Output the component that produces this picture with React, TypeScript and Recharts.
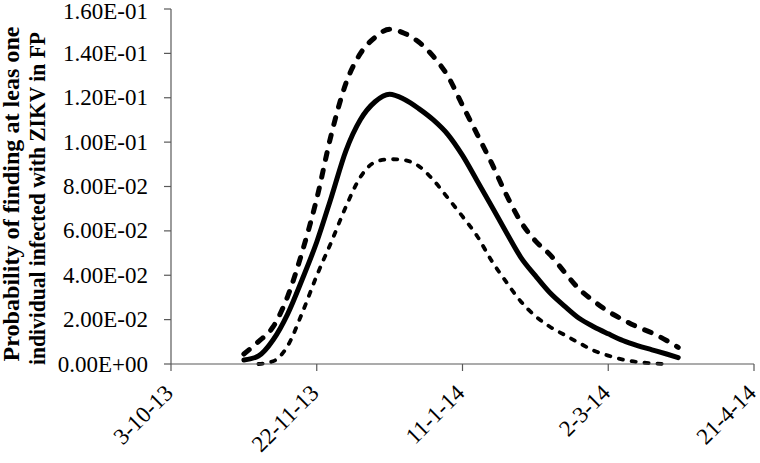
import { LineChart, Line, XAxis, YAxis } from "recharts";

// days since 3-10-13
const days = [
  25, 30, 35, 40, 45, 50, 55, 60, 65, 70, 75, 80, 85, 90, 95, 100, 105, 110, 115,
  120, 125, 130, 135, 140, 145, 150, 155, 160, 165, 170, 174,
];

const meanValues = [
  0.0018, 0.0036, 0.0108, 0.0225, 0.0381, 0.055, 0.0752, 0.0961, 0.1102, 0.1182,
  0.1216, 0.1193, 0.1151, 0.11, 0.1034, 0.094, 0.0826, 0.0711, 0.0594, 0.0481,
  0.0398, 0.0321, 0.0261, 0.0206, 0.0168, 0.0136, 0.0106, 0.0083, 0.0064, 0.0045,
  0.0029,
];

const upperValues = [
  0.0045, 0.0101, 0.0167, 0.0304, 0.0505, 0.0745, 0.1035, 0.1265, 0.14, 0.1472,
  0.1509, 0.1491, 0.1451, 0.1386, 0.1297, 0.1166, 0.1036, 0.0905, 0.0764, 0.0641,
  0.0555, 0.0493, 0.0414, 0.0338, 0.0284, 0.0237, 0.02, 0.0167, 0.014, 0.0106,
  0.0075,
];

const lowerValues = [
  null, 0.0, 0.0012, 0.0081, 0.023, 0.0398, 0.055, 0.0709, 0.0843, 0.091, 0.0923,
  0.0919, 0.0892, 0.0829, 0.0748, 0.0665, 0.0577, 0.0465, 0.037, 0.0282, 0.0216,
  0.0168, 0.0131, 0.0095, 0.0061, 0.0038, 0.002, 0.0009, 0.0003, 0.0, null,
];

const xTicks = [0, 50, 100, 150, 200];
const xTickLabels = ["3-10-13", "22-11-13", "11-1-14", "2-3-14", "21-4-14"];

const yTicks = [0, 0.02, 0.04, 0.06, 0.08, 0.1, 0.12, 0.14, 0.16];
const yTickLabels = [
  "0.00E+00", "2.00E-02", "4.00E-02", "6.00E-02", "8.00E-02",
  "1.00E-01", "1.20E-01", "1.40E-01", "1.60E-01",
];

const titleLines = [
  "Probability of finding at leas one",
  "individual infected with ZIKV in FP",
];

const rows = days.map((d, i) => ({
  day: d,
  mean: meanValues[i],
  upper: upperValues[i],
  lower: lowerValues[i],
}));

const FONT = '"Liberation Serif", "Times New Roman", serif';
const AXIS = "#595959";

function XTick({ x, y, payload }: { x: number; y: number; payload: { value: number } }) {
  const idx = xTicks.indexOf(payload.value);
  const tx = x - 2;
  const ty = y + 16;
  return (
    <text
      x={tx}
      y={ty}
      transform={`rotate(-45, ${tx}, ${ty})`}
      textAnchor="end"
      dominantBaseline="central"
      fontFamily={FONT}
      fontSize={23}
      fill="#000"
    >
      {xTickLabels[idx]}
    </text>
  );
}

function YTick({ x, y, payload }: { x: number; y: number; payload: { value: number } }) {
  const label = yTickLabels[yTicks.indexOf(payload.value)] ?? "";
  // keep the top label inside the picture
  const ty = Math.max(y, 11);
  return (
    <text
      x={x}
      y={ty}
      textAnchor="end"
      dominantBaseline="central"
      fontFamily={FONT}
      fontSize={23}
      fill="#000"
    >
      {label}
    </text>
  );
}

function YTitle() {
  return (
    <g>
      <text
        transform="translate(19, 194) rotate(-90)"
        textAnchor="middle"
        fontFamily={FONT}
        fontWeight="bold"
        fontSize={23}
        fill="#000"
        textLength={335}
        lengthAdjust="spacingAndGlyphs"
      >
        {titleLines[0]}
      </text>
      <text
        transform="translate(45, 198.5) rotate(-90)"
        textAnchor="middle"
        fontFamily={FONT}
        fontWeight="bold"
        fontSize={23}
        fill="#000"
        textLength={333}
        lengthAdjust="spacingAndGlyphs"
      >
        {titleLines[1]}
      </text>
    </g>
  );
}

export default function App() {
  return (
    <div style={{ position: "absolute", left: 0, top: 0, background: "#fff" }}>
      <LineChart
        width={760}
        height={463}
        data={rows}
        margin={{ top: 9, right: 6, bottom: 0, left: 0 }}
      >
        <XAxis
          dataKey="day"
          type="number"
          domain={[0, 200]}
          ticks={xTicks}
          interval={0}
          height={99}
          tickSize={7}
          tick={XTick}
          axisLine={{ stroke: AXIS, strokeWidth: 1.2 }}
          tickLine={{ stroke: AXIS, strokeWidth: 1.2 }}
        />
        <YAxis
          type="number"
          domain={[0, 0.16]}
          ticks={yTicks}
          interval={0}
          width={171}
          tickSize={7}
          tickMargin={16}
          tick={YTick}
          axisLine={{ stroke: AXIS, strokeWidth: 1.2 }}
          tickLine={{ stroke: AXIS, strokeWidth: 1.2 }}
          label={{ content: () => <YTitle /> }}
        />
        <Line
          dataKey="upper"
          type="monotone"
          stroke="#000"
          strokeWidth={5}
          strokeDasharray="7 11"
          strokeLinecap="round"
          dot={false}
          activeDot={false}
          isAnimationActive={false}
        />
        <Line
          dataKey="mean"
          type="monotone"
          stroke="#000"
          strokeWidth={5}
          strokeLinecap="round"
          dot={false}
          activeDot={false}
          isAnimationActive={false}
        />
        <Line
          dataKey="lower"
          type="monotone"
          stroke="#000"
          strokeWidth={3.8}
          strokeDasharray="4.2 8.8"
          strokeLinecap="round"
          dot={false}
          activeDot={false}
          isAnimationActive={false}
        />
      </LineChart>
    </div>
  );
}
